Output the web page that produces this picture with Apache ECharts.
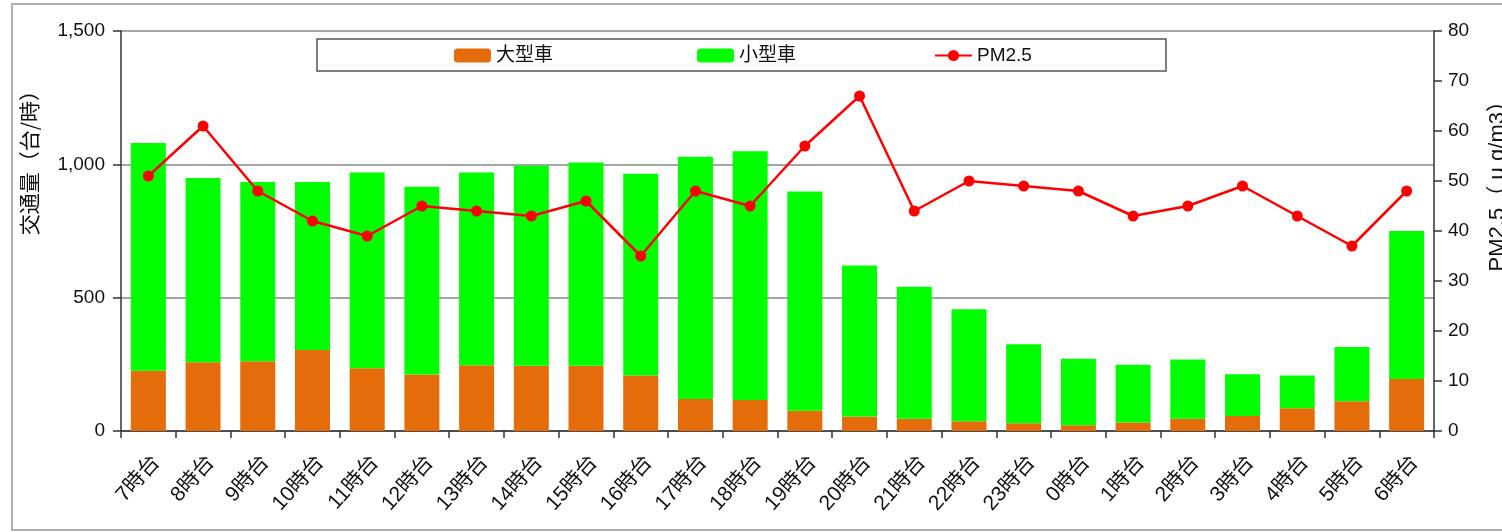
<!DOCTYPE html>
<html><head><meta charset="utf-8">
<script src="https://cdn.jsdelivr.net/npm/echarts@6/dist/echarts.min.js"></script>
<style>html,body{margin:0;padding:0;background:#fff;}#c{width:1502px;height:532px;}</style>
</head><body><div id="c"></div>
<script>
const categories = ['7時台','8時台','9時台','10時台','11時台','12時台','13時台','14時台','15時台','16時台','17時台','18時台','19時台','20時台','21時台','22時台','23時台','0時台','1時台','2時台','3時台','4時台','5時台','6時台'];
const largeVehicles = [226,258,262,304,235,212,247,245,245,208,120,116,76,54,46,37,29,22,32,46,56,85,112,195];
const smallVehicles = [854,691,672,630,734,704,722,750,762,757,908,933,822,567,495,420,296,249,216,222,157,123,203,555];
const pm25 = [51,61,48,42,39,45,44,43,46,35,48,45,57,67,44,50,49,48,43,45,49,43,37,48];
const leftTicks = [0,500,1000,1500];
const rightTicks = [0,10,20,30,40,50,60,70,80];

const FONT = '"Liberation Sans", "Noto Sans CJK JP", sans-serif';
const chart = echarts.init(document.getElementById('c'));
const legendText = {fontSize: 19, color: '#111', fontFamily: FONT};
chart.setOption({
  animation: false,
  backgroundColor: '#fff',
  grid: {left: 121, right: 68, top: 31, bottom: 101, containLabel: false},
  legend: [
    {data: ['大型車'], left: 454, top: 46, itemWidth: 37, itemHeight: 14, itemGap: 0, textStyle: legendText, padding: 0},
    {data: ['小型車'], left: 697, top: 46, itemWidth: 37, itemHeight: 14, itemGap: 0, textStyle: legendText, padding: 0},
    {data: ['PM2.5'], left: 934, top: 46, itemWidth: 37, itemHeight: 14, itemGap: 0, textStyle: legendText, padding: 0}
  ],
  xAxis: {
    type: 'category', data: categories,
    axisLine: {lineStyle: {color: '#333', width: 1.5}},
    axisTick: {show: true, length: 7, alignWithLabel: false, lineStyle: {color: '#333', width: 1.5}},
    axisLabel: {rotate: 48, fontSize: 21, color: '#111', fontFamily: FONT, margin: 21, interval: 0, verticalAlign: 'top'}
  },
  yAxis: [
    {
      type: 'value', min: leftTicks[0], max: leftTicks[leftTicks.length-1], interval: 500,
      axisLine: {show: true, lineStyle: {color: '#333', width: 1.5}},
      axisTick: {show: true, length: 8, lineStyle: {color: '#333', width: 1.5}},
      axisLabel: {fontSize: 19, color: '#111', fontFamily: FONT, margin: 16,
        formatter: v => v.toLocaleString('en-US')},
      splitLine: {show: true, lineStyle: {color: '#888', width: 1.5}}
    },
    {
      type: 'value', min: rightTicks[0], max: rightTicks[rightTicks.length-1], interval: 10, position: 'right',
      axisLine: {show: true, lineStyle: {color: '#333', width: 1.5}},
      axisTick: {show: true, length: 8, lineStyle: {color: '#333', width: 1.5}},
      axisLabel: {fontSize: 19, color: '#111', fontFamily: FONT, margin: 14},
      splitLine: {show: false}
    }
  ],
  graphic: [
    {type: 'rect', shape: {x: 12, y: 4, width: 1500, height: 526}, style: {fill: 'none', stroke: '#b0b0b0', lineWidth: 2}, silent: true},
    {type: 'rect', shape: {x: 317, y: 39, width: 849, height: 32}, style: {fill: 'none', stroke: '#555', lineWidth: 1.5}, silent: true, z: -1},
    {type: 'text', left: 19, top: 80, rotation: Math.PI/2, style: {text: '交通量（台/時）', fill: '#111', font: '21px "Noto Sans CJK JP"'}},
    {type: 'text', left: 1487, top: 90, rotation: Math.PI/2, style: {text: 'PM2.5（ μ g/m3）', fill: '#111', font: '22px "Liberation Sans", "Noto Sans CJK JP"'}}
  ],
  series: [
    {name: '大型車', type: 'bar', stack: 'v', data: largeVehicles, barWidth: 35, itemStyle: {color: '#E46C0A'}},
    {name: '小型車', type: 'bar', stack: 'v', data: smallVehicles, barWidth: 35, itemStyle: {color: '#00FF00'}},
    {name: 'PM2.5', type: 'line', yAxisIndex: 1, data: pm25, symbol: 'circle', symbolSize: 11,
      lineStyle: {color: '#FF0000', width: 2.5}, itemStyle: {color: '#FF0000'}, z: 5}
  ]
});
</script></body></html>
